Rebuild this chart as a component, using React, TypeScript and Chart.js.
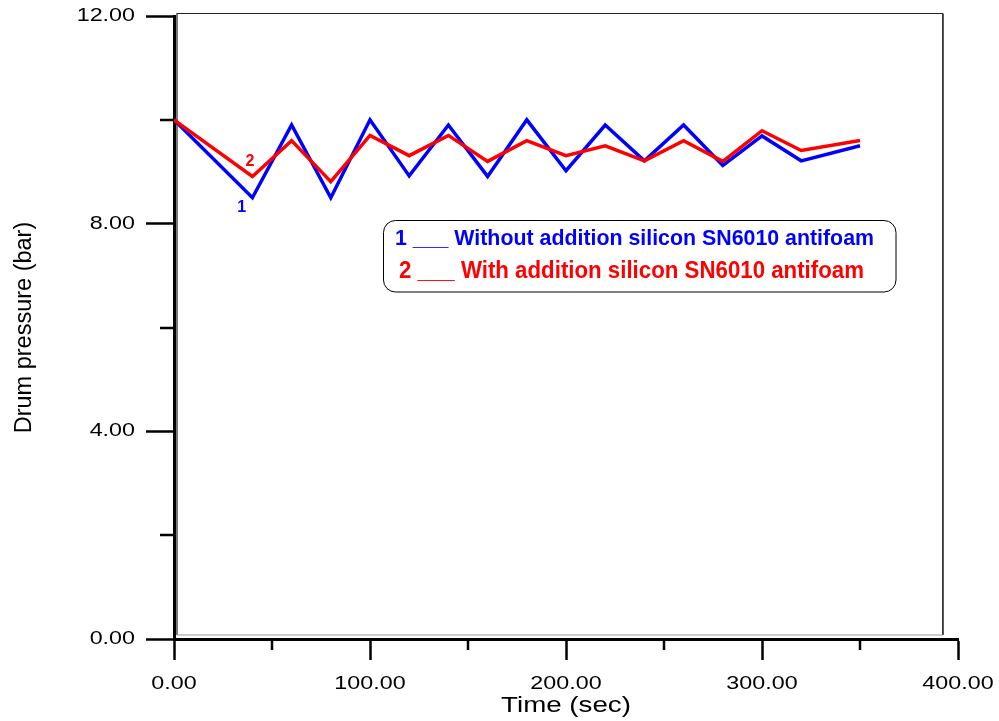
import React, { useEffect, useRef } from "react";
import { Chart, registerables } from "chart.js";

Chart.register(...registerables);

// ---- data ----
const TIME_SEC = [0, 40, 60, 80, 100, 120, 140, 160, 180, 200, 220, 240, 260, 280, 300, 320, 350];
const PRESSURE_WITHOUT = [10.0, 8.5, 9.9, 8.5, 10.0, 8.92, 9.9, 8.91, 10.0, 9.02, 9.9, 9.21, 9.9, 9.12, 9.69, 9.21, 9.5];
const PRESSURE_WITH = [10.0, 8.91, 9.6, 8.81, 9.7, 9.31, 9.7, 9.2, 9.6, 9.31, 9.5, 9.21, 9.6, 9.2, 9.79, 9.41, 9.6];
const SERIES_NAMES = [
  "1 ___ Without addition silicon SN6010 antifoam",
  "2 ___ With addition silicon SN6010 antifoam",
];
const CURVE_MARKS = ["1", "2"];
const X_MINOR_TICKS = [50, 150, 250, 350];
const Y_MINOR_TICKS = [2, 6, 10];
const X_TITLE = "Time (sec)";
const Y_TITLE = "Drum pressure (bar)";

const FONT = '"Liberation Sans", Arial, sans-serif';
const BLUE = "#0000ff";
const RED = "#ff0000";
const SX = 1.26; // horizontal text stretch seen in the reference

const stretchPlugin = {
  id: "stretchText",
  beforeDraw(chart: any) {
    const ctx = chart.ctx as any;
    if (ctx.__origFill) return;
    const orig = ctx.fillText;
    ctx.__origFill = orig;
    ctx.fillText = function (text: string, x: number, y: number, maxWidth?: number) {
      const m = this.getTransform();
      if (Math.abs(m.b) > 1e-6) {
        return maxWidth === undefined ? orig.call(this, text, x, y) : orig.call(this, text, x, y, maxWidth);
      }
      this.save();
      this.translate(x, y);
      this.scale(SX, 1);
      if (maxWidth === undefined) orig.call(this, text, 0, 0);
      else orig.call(this, text, 0, 0, maxWidth / SX);
      this.restore();
    };
  },
  afterDraw(chart: any) {
    const ctx = chart.ctx as any;
    if (ctx.__origFill) {
      ctx.fillText = ctx.__origFill;
      delete ctx.__origFill;
    }
    const xs = chart.scales.x;
    const ys = chart.scales.y;
    const left = chart.chartArea.left;
    const bottom = chart.chartArea.bottom;

    // minor ticks
    ctx.save();
    ctx.strokeStyle = "#000";
    ctx.lineWidth = 2.5;
    ctx.beginPath();
    X_MINOR_TICKS.forEach((v) => {
      const px = Math.round(xs.getPixelForValue(v));
      ctx.moveTo(px, bottom);
      ctx.lineTo(px, bottom + 11);
    });
    Y_MINOR_TICKS.forEach((v) => {
      const py = Math.round(ys.getPixelForValue(v));
      ctx.moveTo(left - 14, py);
      ctx.lineTo(left, py);
    });
    ctx.stroke();
    ctx.restore();

    // curve number marks
    ctx.save();
    ctx.textAlign = "center";
    ctx.textBaseline = "middle";
    ctx.font = `bold 16px ${FONT}`;
    ctx.fillStyle = BLUE;
    ctx.fillText(CURVE_MARKS[0], xs.getPixelForValue(34.5), ys.getPixelForValue(8.3));
    ctx.fillStyle = RED;
    ctx.fillText(CURVE_MARKS[1], xs.getPixelForValue(38.8), ys.getPixelForValue(9.19));
    ctx.restore();

    // legend box
    ctx.save();
    ctx.strokeStyle = "#000";
    ctx.lineWidth = 1;
    ctx.beginPath();
    ctx.roundRect(383.5, 220.5, 512.5, 71.5, 12);
    ctx.fillStyle = "#fff";
    ctx.fill();
    ctx.stroke();
    const drawFitted = (text: string, x: number, base: number, width: number, font: string, color: string) => {
      ctx.save();
      ctx.font = font;
      ctx.fillStyle = color;
      ctx.textAlign = "left";
      ctx.textBaseline = "alphabetic";
      const w = ctx.measureText(text).width;
      ctx.translate(x, base);
      ctx.scale(width / w, 1);
      ctx.fillText(text, 0, 0);
      ctx.restore();
    };
    drawFitted(SERIES_NAMES[0], 395, 245, 479, `bold 21.5px ${FONT}`, BLUE);
    drawFitted(SERIES_NAMES[1], 399, 277.5, 465, `bold 23px ${FONT}`, RED);
    ctx.restore();
  },
  beforeDatasetsDraw(chart: any) {
    const ctx = chart.ctx;
    const { left, top, bottom } = chart.chartArea;
    const xs = chart.scales.x;
    const right = xs.getPixelForValue(392.3);
    ctx.save();
    ctx.lineWidth = 1.2;
    ctx.strokeStyle = "#222";
    ctx.beginPath();
    ctx.moveTo(left + 3, bottom - 4);
    ctx.lineTo(left + 3, top - 2.5);
    ctx.lineTo(right, top - 2.5);
    ctx.stroke();
    ctx.lineWidth = 1.8;
    ctx.strokeStyle = "#333";
    ctx.beginPath();
    ctx.moveTo(right, top - 2.5);
    ctx.lineTo(right, bottom - 4);
    ctx.stroke();
    ctx.lineWidth = 1;
    ctx.strokeStyle = "#999";
    ctx.beginPath();
    ctx.moveTo(left + 3, bottom - 4);
    ctx.lineTo(right, bottom - 4);
    ctx.stroke();
    ctx.restore();
  },
};

export default function App() {
  const ref = useRef<HTMLCanvasElement | null>(null);

  useEffect(() => {
    if (!ref.current) return;
    const chart = new Chart(ref.current, {
      type: "line",
      data: {
        datasets: [
          {
            label: SERIES_NAMES[1],
            data: TIME_SEC.map((t, i) => ({ x: t, y: PRESSURE_WITH[i] })),
            borderColor: RED,
            borderWidth: 3.5,
            pointRadius: 0,
            tension: 0,
            fill: false,
            borderJoinStyle: "miter",
            order: 0,
          },
          {
            label: SERIES_NAMES[0],
            data: TIME_SEC.map((t, i) => ({ x: t, y: PRESSURE_WITHOUT[i] })),
            borderColor: BLUE,
            borderWidth: 3.5,
            pointRadius: 0,
            tension: 0,
            fill: false,
            borderJoinStyle: "miter",
            order: 1,
          },
        ],
      },
      options: {
        animation: false,
        responsive: false,
        devicePixelRatio: 1,
        layout: { padding: { left: 0, right: 41, top: 16, bottom: 0 } },
        plugins: {
          legend: { display: false },
          tooltip: { enabled: false },
        },
        scales: {
          x: {
            type: "linear",
            position: "bottom",
            min: 0,
            max: 400,
            afterFit: (s: any) => {
              s.height = 82;
              s.paddingLeft = 0;
              s.paddingRight = 0;
            },
            ticks: {
              stepSize: 50,
              autoSkip: false,
              maxRotation: 0,
              color: "#000",
              padding: 13,
              font: { family: FONT, size: 18.5 },
              callback: (v: any) => (Number(v) % 100 === 0 ? Number(v).toFixed(2) : ""),
            },
            grid: {
              drawOnChartArea: false,
              drawTicks: true,
              tickLength: 21,
              tickWidth: 2.5,
              tickColor: (c: any) => (c.tick && c.tick.value % 100 === 0 ? "#000" : "rgba(0,0,0,0)"),
            },
            border: { display: true, width: 3, color: "#000" },
            title: {
              display: true,
              text: X_TITLE,
              color: "#000",
              font: { family: FONT, size: 22 },
              padding: { top: 0, bottom: 2 },
            },
          },
          y: {
            type: "linear",
            min: 0,
            max: 12,
            afterFit: (s: any) => {
              s.width = 174;
              s.paddingTop = 0;
              s.paddingBottom = 0;
            },
            ticks: {
              stepSize: 2,
              autoSkip: false,
              color: "#000",
              padding: 11,
              font: { family: FONT, size: 18.5 },
              callback: (v: any) => (Number(v) % 4 === 0 ? Number(v).toFixed(2) : ""),
            },
            grid: {
              drawOnChartArea: false,
              drawTicks: true,
              tickLength: 28,
              tickWidth: 2.5,
              tickColor: (c: any) => (c.tick && c.tick.value % 4 === 0 ? "#000" : "rgba(0,0,0,0)"),
            },
            border: { display: true, width: 3, color: "#000" },
            title: {
              display: true,
              text: Y_TITLE,
              color: "#000",
              font: { family: FONT, size: 23.5 },
              padding: { top: 10, bottom: 0 },
            },
          },
        },
      } as any,
      plugins: [stretchPlugin],
    });
    return () => chart.destroy();
  }, []);

  return (
    <div style={{ position: "absolute", left: 0, top: 0, width: 999, height: 721, background: "#fff" }}>
      <canvas ref={ref} width={999} height={721} style={{ display: "block" }} />
    </div>
  );
}
